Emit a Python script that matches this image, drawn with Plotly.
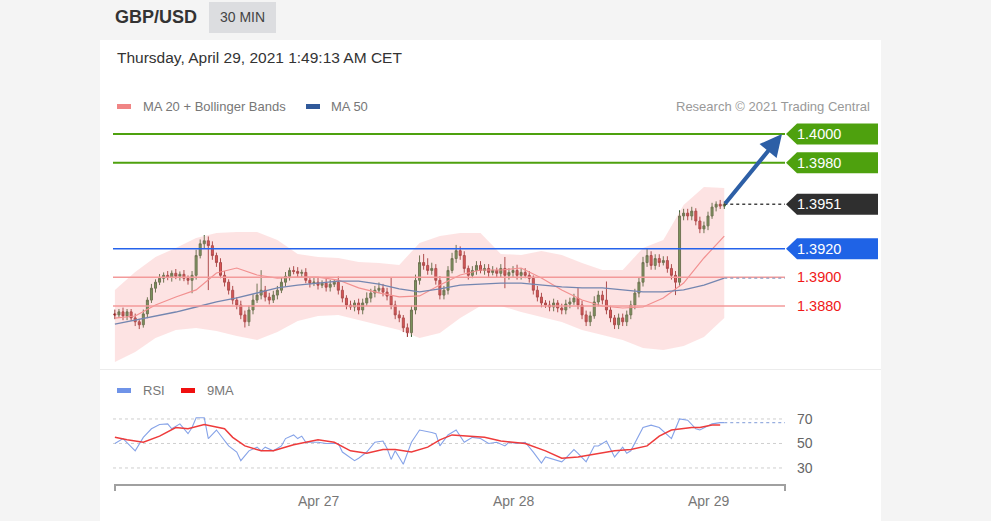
import pandas as pd
import plotly.graph_objects as go

# ---------------- data ----------------
close = [1.38738, 1.38759, 1.38731, 1.38759, 1.38717, 1.38690, 1.38669, 1.38745, 1.38841, 1.38924,
         1.38966, 1.38993, 1.39014, 1.39000, 1.39028, 1.39007, 1.39021, 1.38993, 1.38979, 1.39014,
         1.39152, 1.39234, 1.39255, 1.39221, 1.39152, 1.39103, 1.39014, 1.38966, 1.38910, 1.38841,
         1.38807, 1.38738, 1.38690, 1.38772, 1.38841, 1.38876, 1.38910, 1.38862, 1.38841, 1.38876,
         1.38910, 1.38966, 1.39007, 1.39048, 1.39041, 1.39028, 1.39034, 1.38979, 1.38959, 1.38966,
         1.38945, 1.38959, 1.38931, 1.38952, 1.38966, 1.38910, 1.38855, 1.38807, 1.38793, 1.38821,
         1.38772, 1.38821, 1.38855, 1.38890, 1.38910, 1.38924, 1.38897, 1.38869, 1.38807, 1.38738,
         1.38717, 1.38648, 1.38614, 1.38772, 1.38979, 1.39103, 1.39083, 1.39048, 1.39062, 1.38979,
         1.38876, 1.38910, 1.39048, 1.39131, 1.39186, 1.39152, 1.39062, 1.39014, 1.39048, 1.39083,
         1.39048, 1.39062, 1.39034, 1.39048, 1.39028, 1.39062, 1.39014, 1.39034, 1.39048, 1.39014,
         1.39034, 1.39014, 1.38993, 1.38910, 1.38862, 1.38821, 1.38807, 1.38793, 1.38821, 1.38786,
         1.38772, 1.38814, 1.38828, 1.38855, 1.38807, 1.38738, 1.38690, 1.38731, 1.38828, 1.38876,
         1.38841, 1.38772, 1.38717, 1.38669, 1.38717, 1.38690, 1.38738, 1.38807, 1.38890, 1.38966,
         1.39103, 1.39152, 1.39083, 1.39131, 1.39103, 1.39117, 1.39062, 1.39014, 1.38966, 1.39428,
         1.39448, 1.39428, 1.39462, 1.39393, 1.39338, 1.39359, 1.39428, 1.39490, 1.39510, 1.39497,
         1.39510]
first_open = 1.38745
# wick lengths in pips (0.0001) above / below the candle body
upper_wick = [3, 2, 3, 2, 2, 3, 2, 3, 2, 3,
              2, 3, 2, 3, 2, 3, 2, 3, 2, 3,
              4, 3, 4, 3, 3, 2, 3, 3, 2, 3,
              2, 3, 3, 3, 4, 8, 14, 3, 3, 3,
              3, 3, 3, 2, 3, 3, 2, 3, 2, 3,
              3, 2, 3, 3, 2, 4, 3, 2, 3, 2,
              3, 3, 4, 3, 3, 4, 3, 3, 13, 3,
              3, 2, 3, 3, 4, 5, 6, 5, 4, 3,
              3, 3, 3, 4, 4, 3, 3, 2, 3, 3,
              3, 3, 3, 3, 2, 3, 8, 3, 3, 4,
              3, 3, 3, 2, 3, 3, 2, 3, 3, 2,
              3, 3, 3, 3, 7, 3, 3, 3, 4, 3,
              3, 13, 3, 2, 3, 3, 3, 3, 3, 3,
              4, 5, 3, 3, 3, 3, 3, 3, 3, 4,
              3, 3, 3, 2, 3, 3, 3, 3, 2, 3, 2]
lower_wick = [3, 2, 3, 3, 2, 3, 3, 2, 3, 2,
              3, 2, 3, 2, 3, 2, 3, 2, 3, 9,
              3, 2, 3, 31, 3, 3, 2, 3, 3, 3,
              3, 3, 4, 3, 3, 2, 3, 3, 3, 2,
              3, 2, 3, 3, 2, 3, 3, 2, 3, 2,
              3, 2, 3, 3, 2, 3, 3, 3, 2, 3,
              3, 3, 2, 3, 3, 2, 3, 3, 3, 3,
              3, 3, 3, 3, 3, 3, 3, 3, 3, 3,
              3, 3, 3, 2, 3, 3, 3, 3, 2, 3,
              2, 3, 3, 2, 3, 3, 9, 3, 3, 3,
              3, 2, 3, 3, 3, 3, 2, 3, 3, 3,
              3, 3, 3, 2, 3, 3, 3, 3, 2, 3,
              3, 3, 3, 3, 3, 3, 3, 3, 3, 3,
              3, 3, 3, 3, 3, 2, 3, 3, 9, 3,
              3, 3, 3, 3, 3, 3, 3, 2, 3, 2, 2]

# indicator values sampled every 5 candles
band_step = 5
bb_upper = [1.38912, 1.39037, 1.39142, 1.39205, 1.39274, 1.39309, 1.39316, 1.39316, 1.39260, 1.39163,
            1.39142, 1.39135, 1.39107, 1.39100, 1.39086, 1.39240, 1.39288, 1.39309, 1.39309, 1.39163,
            1.39156, 1.39184, 1.39156, 1.39100, 1.39051, 1.39051, 1.39205, 1.39260, 1.39505, 1.39630,
            1.39623]
bb_lower = [1.38409, 1.38479, 1.38577, 1.38633, 1.38646, 1.38626, 1.38591, 1.38563, 1.38619, 1.38695,
            1.38730, 1.38737, 1.38702, 1.38667, 1.38633, 1.38577, 1.38612, 1.38716, 1.38800, 1.38800,
            1.38758, 1.38723, 1.38688, 1.38633, 1.38598, 1.38563, 1.38507, 1.38493, 1.38521, 1.38584,
            1.38716]
ma20 = [1.38716, 1.38730, 1.38807, 1.38863, 1.38912, 1.39030, 1.39065, 1.39016, 1.38995, 1.39002,
        1.39002, 1.38981, 1.38926, 1.38891, 1.38863, 1.38870, 1.38946, 1.39016, 1.39051, 1.39051,
        1.39065, 1.38995, 1.38912, 1.38842, 1.38800, 1.38786, 1.38793, 1.38856, 1.38960, 1.39135,
        1.39288]
ma50 = [1.38674, 1.38702, 1.38730, 1.38758, 1.38793, 1.38828, 1.38856, 1.38891, 1.38926, 1.38946,
        1.38960, 1.38974, 1.38974, 1.38953, 1.38919, 1.38898, 1.38919, 1.38946, 1.38953, 1.38960,
        1.38960, 1.38946, 1.38933, 1.38926, 1.38926, 1.38912, 1.38898, 1.38898, 1.38912, 1.38946,
        1.38995]

rsi_idx = [0, 2, 5, 7, 9, 11, 13, 14, 16, 18, 19, 20, 22, 23, 25, 27, 28, 30, 31, 33, 35, 36, 37, 39,
           41, 42, 44, 45, 46, 47, 50, 52, 55, 56, 59, 60, 62, 64, 66, 67, 68, 69, 71, 73, 75, 78, 79,
           80, 82, 84, 86, 88, 90, 92, 94, 96, 97, 99, 101, 103, 105, 106, 110, 111, 113, 114, 116,
           118, 119, 121, 123, 125, 126, 127, 130, 132, 134, 137, 139, 141, 143, 144, 147, 149, 150]
rsi_val = [50, 54, 44, 55, 62, 65.5, 66, 62, 66, 58, 63, 71, 71, 54, 61, 52, 48, 43, 36, 44, 47, 44, 47, 44,
           48, 54, 57, 54, 56, 51, 51, 50, 50, 43, 36, 38, 43, 51, 52, 46, 37, 44, 33, 51, 61, 59, 58,
           48, 57, 61, 51, 55, 54, 50, 51, 48, 51, 50, 51, 43, 34, 39, 35, 38, 45, 42, 35,
           48, 48, 52, 39, 47, 42, 44, 63, 65, 63, 54, 70, 69, 62, 61, 66, 67, 67]
ma9_idx = [0, 3, 7, 11, 15, 18, 22, 27, 29, 32, 36, 39, 44, 50, 54, 58, 62, 66, 69, 73, 77, 80, 83, 87,
           91, 95, 98, 101, 106, 110, 114, 119, 123, 127, 131, 134, 137, 142, 144, 147, 149]
ma9_val = [55, 53, 51, 56, 63, 62, 65.5, 62, 55, 48, 44, 44, 49, 53, 51, 44, 42, 45, 45, 43, 47, 53, 57, 56,
           55, 52, 51, 50, 44, 38, 39, 42, 44, 45, 48, 56, 61, 63, 63, 65, 65]

levels_green = [1.4000, 1.3980]
level_blue = 1.3920
levels_red = [1.3900, 1.3880]
last_price = 1.3951
rsi_levels = [70, 50, 30]
x_tick_dates = ["2021-04-27", "2021-04-28", "2021-04-29"]
x_tick_text = ["Apr 27", "Apr 28", "Apr 29"]

# ---------------- derived ----------------
times = pd.date_range("2021-04-25 23:00", periods=len(close), freq="30min")
opens = [first_open] + close[:-1]
highs = [max(o, c) + u / 10000 for o, c, u in zip(opens, close, upper_wick)]
lows = [min(o, c) - l / 10000 for o, c, l in zip(opens, close, lower_wick)]
band_t = list(times[::band_step])
rsi_t = [times[i] for i in rsi_idx]
ma9_t = [times[i] for i in ma9_idx]

W, H = 991, 521
def px(x): return x / W
def py(y): return 1 - y / H

X0_PX, X1_PX = 113, 785
T0 = "2021-04-25 22:46:09"
T1 = "2021-04-29 09:28:37"
Y_MAIN = [1.383674, 1.401116]
Y_RSI = [16.1, 85.5]
FONT = "Liberation Sans, Arial, sans-serif"

fig = go.Figure()

# Bollinger band fill
fig.add_trace(go.Scatter(x=band_t, y=bb_upper, mode="lines", line=dict(width=0, color="rgba(0,0,0,0)"),
                         hoverinfo="skip", yaxis="y"))
fig.add_trace(go.Scatter(x=band_t, y=bb_lower, mode="lines", line=dict(width=0, color="rgba(0,0,0,0)"),
                         fill="tonexty", fillcolor="rgba(248,170,170,0.33)", hoverinfo="skip", yaxis="y"))
fig.add_trace(go.Scatter(x=band_t, y=ma20, mode="lines", line=dict(width=1.2, color="#f29090"), yaxis="y"))
fig.add_trace(go.Scatter(x=band_t, y=ma50, mode="lines", line=dict(width=1.3, color="#7486b0"), yaxis="y"))

fig.add_trace(go.Candlestick(x=times, open=opens, high=highs, low=lows, close=close,
                             increasing=dict(line=dict(color="#2f5a2a", width=1), fillcolor="#3f8a38"),
                             decreasing=dict(line=dict(color="#8a2020", width=1), fillcolor="#cc2e2e"),
                             whiskerwidth=0, yaxis="y"))

fig.add_trace(go.Scatter(x=rsi_t, y=rsi_val, mode="lines", line=dict(width=1.1, color="#86a3e8"), yaxis="y2"))
fig.add_trace(go.Scatter(x=ma9_t, y=ma9_val, mode="lines", line=dict(width=1.5, color="#ee3b3b"), yaxis="y2"))

shapes = []
# page panel
shapes.append(dict(type="rect", xref="paper", yref="paper", x0=px(100), x1=px(881), y0=py(521), y1=py(40),
                   fillcolor="white", line=dict(width=0), layer="below"))
shapes.append(dict(type="rect", xref="paper", yref="paper", x0=px(209), x1=px(276), y0=py(33), y1=py(2),
                   fillcolor="#dcdde0", line=dict(width=0), layer="below"))
shapes.append(dict(type="line", xref="paper", yref="paper", x0=px(100), x1=px(881), y0=py(369.5), y1=py(369.5),
                   line=dict(color="#ececec", width=1)))

# level lines
for lv in levels_green:
    shapes.append(dict(type="line", xref="paper", yref="y", x0=px(X0_PX), x1=px(X1_PX), y0=lv, y1=lv,
                       line=dict(color="#4ea10e", width=2)))
shapes.append(dict(type="line", xref="paper", yref="y", x0=px(X0_PX), x1=px(X1_PX), y0=level_blue, y1=level_blue,
                   line=dict(color="#2563eb", width=1.5)))
for lv in levels_red:
    shapes.append(dict(type="line", xref="paper", yref="y", x0=px(X0_PX), x1=px(X1_PX), y0=lv, y1=lv,
                       line=dict(color="#f39a9a", width=1.5)))

# dotted extensions
shapes.append(dict(type="line", xref="x", yref="y", x0=times[-1], x1=T1, y0=last_price, y1=last_price,
                   line=dict(color="#444", width=1.3, dash="dot")))
shapes.append(dict(type="line", xref="x", yref="y", x0=band_t[-1], x1=T1, y0=ma50[-1], y1=ma50[-1],
                   line=dict(color="#8d9cc0", width=1.3, dash="dot")))
for lv in rsi_levels:
    shapes.append(dict(type="line", xref="paper", yref="y2", x0=px(X0_PX), x1=px(X1_PX), y0=lv, y1=lv,
                       line=dict(color="#cfcfcf", width=1, dash="dot"), layer="below"))
shapes.append(dict(type="line", xref="x", yref="y2", x0=rsi_t[-1], x1=T1, y0=rsi_val[-1], y1=rsi_val[-1],
                   line=dict(color="#98aee0", width=1.3, dash="dot")))

# x axis bracket
shapes.append(dict(type="path", xref="paper", yref="paper",
                   path=f"M {px(115)},{py(491)} L {px(115)},{py(485)} L {px(785)},{py(485)} L {px(785)},{py(491)}",
                   line=dict(color="#a0a0a0", width=2)))

# price tags
dpp = (Y_MAIN[1] - Y_MAIN[0]) / 250.0
def tag(level, color):
    h = 10.5 * dpp
    return dict(type="path", xref="paper", yref="y", fillcolor=color, line=dict(width=0),
                path=(f"M {px(786)},{level} L {px(797)},{level + h} L {px(878)},{level + h} "
                      f"L {px(878)},{level - h} L {px(797)},{level - h} Z"))
for lv in levels_green:
    shapes.append(tag(lv, "#4ea10e"))
shapes.append(tag(last_price, "#2f2f2f"))
shapes.append(tag(level_blue, "#1f63e6"))

# legend swatches
for (x0, x1, y, col) in [(117, 131, 106.5, "#f08585"), (306, 320, 106.5, "#30599a"),
                         (117, 131, 390.5, "#6f93e8"), (181, 195, 390.5, "#f01010")]:
    shapes.append(dict(type="rect", xref="paper", yref="paper", x0=px(x0), x1=px(x1),
                       y0=py(y + 2.5), y1=py(y - 2.5), fillcolor=col, line=dict(width=0)))

ann = []
def text(x, y, s, size, color, anchor="left", bold=False):
    ann.append(dict(x=px(x), y=py(y), xref="paper", yref="paper", text=f"<b>{s}</b>" if bold else s,
                    showarrow=False, xanchor=anchor, yanchor="middle",
                    font=dict(family=FONT, size=size, color=color)))

text(113, 17, "GBP/USD", 18, "#333", bold=True)
text(242.5, 17, "30 MIN", 14, "#444", anchor="center")
text(115, 57, "Thursday, April 29, 2021 1:49:13 AM CET", 15.5, "#333")
text(141, 106.5, "MA 20 + Bollinger Bands", 13, "#777")
text(329, 106.5, "MA 50", 13, "#777")
text(872, 106.5, "Research © 2021 Trading Central", 13, "#999", anchor="right")
text(141, 390.5, "RSI", 13, "#777")
text(205, 390.5, "9MA", 13, "#777")

for lv in levels_green + [last_price, level_blue]:
    ann.append(dict(x=px(795), y=lv, xref="paper", yref="y", text=f"{lv:.4f}", showarrow=False,
                    xanchor="left", yanchor="middle", font=dict(family=FONT, size=14.5, color="white")))
for lv in levels_red:
    ann.append(dict(x=px(795), y=lv, xref="paper", yref="y", text=f"{lv:.4f}", showarrow=False,
                    xanchor="left", yanchor="middle", font=dict(family=FONT, size=14.5, color="#f01818")))
for lv in rsi_levels:
    ann.append(dict(x=px(795), y=lv, xref="paper", yref="y2", text=str(lv), showarrow=False,
                    xanchor="left", yanchor="middle", font=dict(family=FONT, size=14, color="#666")))
for d, t in zip(x_tick_dates, x_tick_text):
    ann.append(dict(x=d, y=py(501), xref="x", yref="paper", text=t, showarrow=False,
                    xanchor="center", yanchor="middle", font=dict(family=FONT, size=14, color="#777")))

# target arrow
ann.append(dict(x=px(782), y=levels_green[0], xref="paper", yref="y", ax=-58, ay=71, text="",
                showarrow=True, arrowhead=2, arrowsize=1.1, arrowwidth=4, arrowcolor="#2d5fa6", standoff=0))

fig.update_layout(
    width=W, height=H, margin=dict(l=0, r=0, t=0, b=0),
    paper_bgcolor="#f4f4f4", plot_bgcolor="rgba(0,0,0,0)",
    showlegend=False, shapes=shapes, annotations=ann,
    xaxis=dict(type="date", range=[T0, T1], domain=[px(X0_PX), px(X1_PX)], anchor="y2",
               showgrid=False, zeroline=False, showticklabels=False, showline=False,
               rangeslider=dict(visible=False), fixedrange=True),
    yaxis=dict(domain=[py(368), py(118)], range=Y_MAIN, visible=False, fixedrange=True),
    yaxis2=dict(domain=[py(485), py(400)], range=Y_RSI, visible=False, fixedrange=True),
    font=dict(family=FONT),
)

fig.write_html("out.html", config={"displayModeBar": False},
               post_script="document.body.style.margin='0';document.body.style.overflow='hidden';")
